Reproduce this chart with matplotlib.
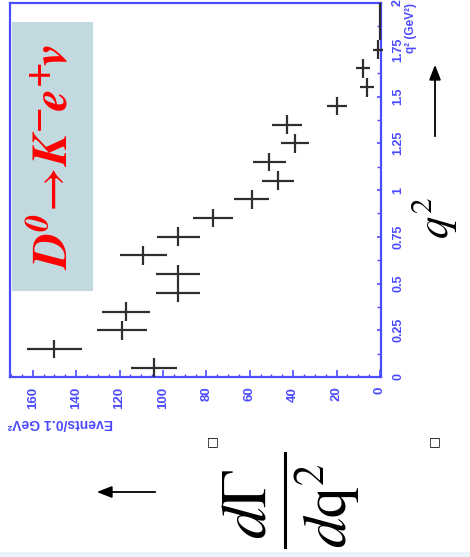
import matplotlib
matplotlib.use("Agg")
import matplotlib.pyplot as plt
from matplotlib.patches import Rectangle
from matplotlib.lines import Line2D
from matplotlib.ticker import MultipleLocator, FixedLocator, FixedFormatter

# ---- data ----
q2_bins = [0.05, 0.15, 0.25, 0.35, 0.45, 0.55, 0.65, 0.75, 0.85, 0.95,
           1.05, 1.15, 1.25, 1.35, 1.45, 1.55, 1.65, 1.75, 1.85, 1.95]
events = [104, 150, 119, 117, 93, 93, 109, 93, 77, 59,
          47, 51, 39, 43, 20, 6, 8, 1, 0, 0]
events_err = [10.6, 12.5, 11.5, 11.0, 10.3, 10.3, 10.7, 9.9, 9.2, 8.1,
              7.5, 7.6, 6.5, 6.9, 4.6, 3.2, 3.2, 2.3, 0, 0]
q2_halfwidth = 0.05
ev_ticks = [0, 20, 40, 60, 80, 100, 120, 140, 160]
ev_ticklabels = ['0', '20', '40', '60', '80', '100', '120', '140', '160']
q2_ticks = [0, 0.25, 0.5, 0.75, 1.0, 1.25, 1.5, 1.75, 2.0]
q2_ticklabels = ['0', '0.25', '0.5', '0.75', '1', '1.25', '1.5', '1.75', '2']

W, H = 470, 557
BLUE = '#4b4bff'
AXFONT = 'Liberation Sans'

def fx(x):
    return x / W

def fy(y):
    return 1 - y / H

fig = plt.figure(figsize=(W / 100, H / 100), dpi=100)
fig.patch.set_facecolor('white')

# axes (rotated view: events horizontal, reversed; q^2 vertical on the right)
ax = fig.add_axes([fx(10), fy(377), (381 - 10) / W, (377 - 3) / H])
ax.set_facecolor('white')
ax.set_xlim(170.5, -0.5)
ax.set_ylim(0, 2.0)

ax.errorbar(events, q2_bins, xerr=events_err, yerr=q2_halfwidth, fmt='none',
            ecolor='#2e2e2e', elinewidth=1.6, capsize=0, zorder=3, clip_on=False)

for s in ax.spines.values():
    s.set_color(BLUE)
    s.set_linewidth(1.6)

ax.yaxis.tick_right()
ax.xaxis.set_major_locator(FixedLocator(ev_ticks))
ax.xaxis.set_major_formatter(FixedFormatter(ev_ticklabels))
ax.xaxis.set_minor_locator(MultipleLocator(5))
ax.yaxis.set_major_locator(FixedLocator(q2_ticks))
ax.yaxis.set_major_formatter(FixedFormatter(q2_ticklabels))
ax.yaxis.set_minor_locator(MultipleLocator(0.125))

ax.tick_params(axis='x', which='major', direction='in', length=5, width=1.2,
               color=BLUE, pad=7, labelcolor=BLUE, labelrotation=90, labelsize=9.5)
ax.tick_params(axis='x', which='minor', direction='in', length=2.5, width=1.0, color=BLUE)
ax.tick_params(axis='y', which='major', direction='in', length=3, width=1.2,
               color=BLUE, pad=8, labelcolor=BLUE, labelrotation=90, labelsize=9,
               left=False, right=True)
ax.tick_params(axis='y', which='minor', direction='in', length=3, width=1.0,
               color=BLUE, left=False, right=True)
for lab in ax.get_xticklabels() + ax.get_yticklabels():
    lab.set_fontfamily(AXFONT)
    lab.set_fontweight('bold')
for lab in ax.get_yticklabels():
    lab.set_va('center')

# box with the decay label
ax.add_patch(Rectangle((fx(12), fy(291)), 81 / W, 269 / H, transform=fig.transFigure,
                       facecolor='#c2d9df', edgecolor='none', zorder=0.5, clip_on=False))
fig.text(fx(53), fy(157),
         r'$\mathbfit{D}^{\mathbfit{0}}\!\rightarrow\!\mathbfit{K}^{\mathbf{-}}\!\mathbfit{e}^{\mathbf{+}}\!\mathbfit{v}$',
         math_fontfamily='stix', rotation=90, ha='center', va='center',
         fontsize=35, color='#ff0000')

# axis titles
fig.text(fx(8), fy(423), 'Events/0.1 GeV²', rotation=180, ha='left', va='center',
         fontsize=10, fontweight='bold', family=AXFONT, color=BLUE)
fig.text(fx(411), fy(3), 'q² (GeV²)', rotation=90, ha='center', va='top',
         fontsize=8.5, fontweight='bold', family=AXFONT, color=BLUE)

# big q^2 and arrow
fig.text(fx(434), fy(218), r'$q^2$', math_fontfamily='stix', rotation=90,
         ha='center', va='center', fontsize=32, color='black')
fig.add_artist(plt.Annotation('', xy=(fx(435), fy(62)), xytext=(fx(435), fy(139)),
                              xycoords='figure fraction', textcoords='figure fraction',
                              arrowprops=dict(arrowstyle='-|>,head_length=0.9,head_width=0.35',
                                              color='black', lw=1.3)))

# dGamma / dq^2 and arrow
fig.text(fx(247), fy(504), r'$d\Gamma$', math_fontfamily='stix', rotation=90,
         ha='center', va='center', fontsize=46, color='black')
fig.text(fx(328), fy(506), r'$d\mathrm{q}^2$', math_fontfamily='stix', rotation=90,
         ha='center', va='center', fontsize=44, color='black')
fig.add_artist(Line2D([fx(285), fx(285)], [fy(453), fy(547)], transform=fig.transFigure,
                      color='black', lw=2.2))
fig.add_artist(plt.Annotation('', xy=(fx(94), fy(492)), xytext=(fx(158), fy(492)),
                              xycoords='figure fraction', textcoords='figure fraction',
                              arrowprops=dict(arrowstyle='-|>,head_length=0.9,head_width=0.35',
                                              color='black', lw=1.3)))
for sx in (213, 435):
    fig.text(fx(sx), fy(442), '□', ha='center', va='center', fontsize=9,
             family='DejaVu Sans', color='black')

# light strip at the very bottom
fig.add_artist(Rectangle((0, 0), 1, 5 / H, transform=fig.transFigure,
                         facecolor='#eaf5fb', edgecolor='none'))

fig.savefig('out.png', dpi=100)
